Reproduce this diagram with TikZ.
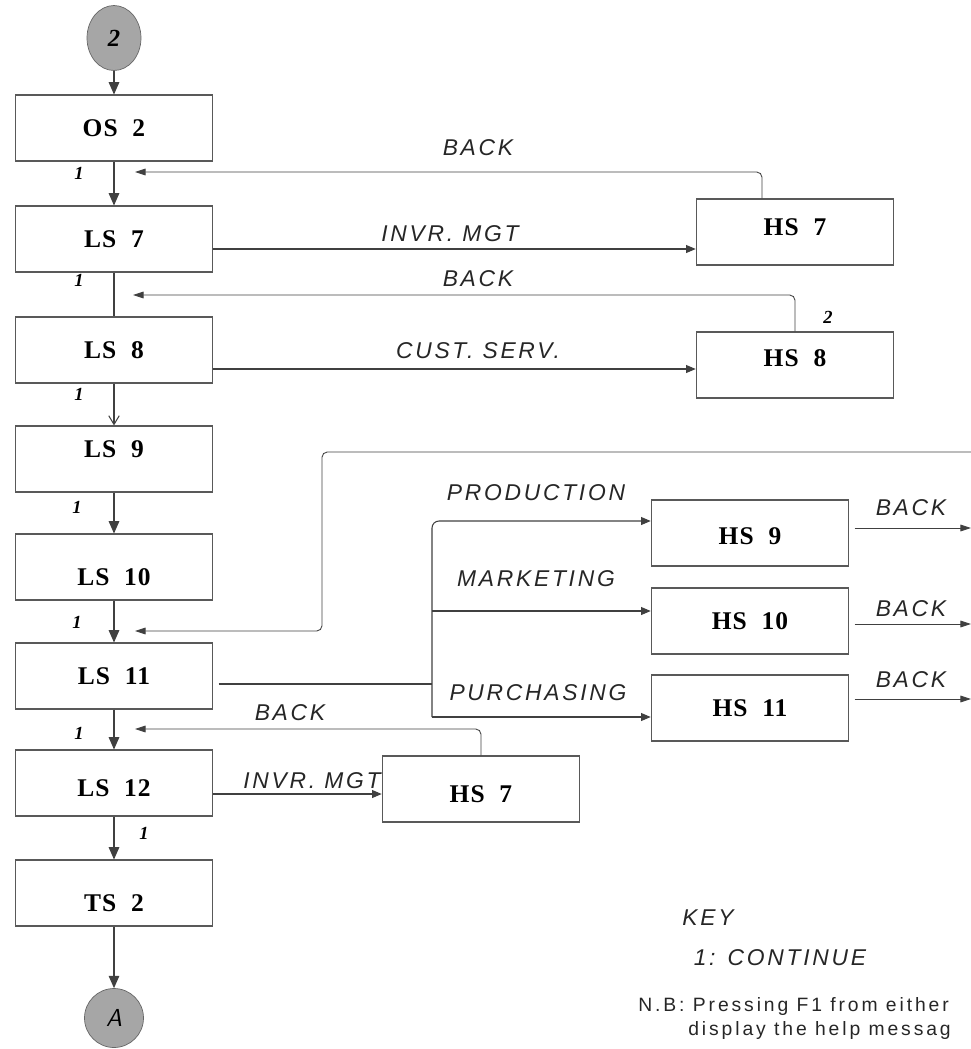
\documentclass[tikz,border=0pt]{standalone}
\usepackage{fontspec}
\setmainfont{Liberation Serif}
\newfontfamily\lblfont[LetterSpace=12]{Liberation Sans}
\newfontfamily\notefont[LetterSpace=15]{Liberation Sans}
\newfontfamily\scrfont[LetterSpace=4]{Liberation Serif}
\usetikzlibrary{arrows.meta, shapes.geometric}

\begin{document}
\begin{tikzpicture}[
    x=0.02cm, y=-0.02cm,
    screen/.style={draw=black!65, line width=0.6pt, rectangle, minimum width=3.95cm, minimum height=1.32cm,
        text height=9.5pt, text depth=0pt, font=\scrfont\bfseries\fontsize{14.5}{17}\selectfont},
    term/.style={draw=black!60, ellipse, fill=black!35, inner sep=0pt},
    lbl/.style={text height=9.3pt, text depth=0pt, inner sep=0pt, text=black!85,
        font=\lblfont\itshape\fontsize{13}{15}\selectfont},
    num/.style={inner sep=0pt, font=\bfseries\itshape\fontsize{10.5}{12}\selectfont},
    note/.style={anchor=west, inner sep=0pt, text=black!85, font=\notefont\fontsize{11}{13}\selectfont},
    line/.style={draw=black!75, line width=0.6pt},
    flow/.style={-{Triangle[length=7pt,width=6pt]}, draw=black!75, line width=0.6pt},
    open_arrow/.style={-{Straight Barb[length=5pt,width=6pt]}, draw=black!75, line width=0.6pt},
    arrow/.style={-{Triangle[length=5.5pt,width=4.5pt]}, draw=black!75, line width=0.6pt},
    back_arrow/.style={-{Triangle[length=6pt,width=3.8pt]}, draw=black!75, line width=0.5pt, rounded corners=3pt}
]
\useasboundingbox (0,0) rectangle (971,1049);

% Connectors (top and bottom of the column)
\node[term, minimum width=1.08cm, minimum height=1.3cm] (start) at (114,38)
    {\bfseries\itshape\fontsize{14}{16}\selectfont 2};
\node[term, minimum width=1.18cm, minimum height=1.18cm] (endA) at (114,1018)
    {\sffamily\itshape\fontsize{14}{16}\selectfont A};

% Main column of screens
\node[screen] (os2) at (114,128) {OS\ \ 2};
\node[screen] (ls7) at (114,239) {LS\ \ 7};
\node[screen] (ls8) at (114,350) {LS\ \ 8};
\node[screen, text depth=11pt] (ls9) at (114,459) {LS\ \ 9};
\node[screen, text height=20.5pt] (ls10) at (114,567) {LS\ \ 10};
\node[screen] (ls11) at (114,676) {LS\ \ 11};
\node[screen, text height=15.5pt] (ls12) at (114,783) {LS\ \ 12};
\node[screen, text height=21.5pt] (ts2) at (114,893) {TS\ \ 2};

% Help screens
\node[screen, text depth=5pt] (hs7) at (795,232) {HS\ \ 7};
\node[screen, text depth=8pt] (hs8) at (795,365) {HS\ \ 8};
\node[screen, text height=13.5pt] (hs9) at (750,533) {HS\ \ 9};
\node[screen] (hs10) at (750,621) {HS\ \ 10};
\node[screen] (hs11) at (750,708) {HS\ \ 11};
\node[screen, text height=15.5pt] (hs7b) at (481,789) {HS\ \ 7};

% Column flow
\draw[flow] (start) -- (os2);
\draw[flow] (os2) -- (ls7);
\draw[line] (ls7) -- (ls8);
\draw[open_arrow] (ls8) -- (ls9);
\draw[flow] (ls9) -- (ls10);
\draw[flow] (ls10) -- (ls11);
\draw[flow] (ls11) -- (ls12);
\draw[flow] (ls12) -- (ts2);
\draw[flow] (ts2) -- (endA);

\node[num] (n1) at (79,173) {1};
\node[num] (n2) at (79,280) {1};
\node[num] (n3) at (79,394) {1};
\node[num] (n4) at (77,507) {1};
\node[num] (n5) at (77,622) {1};
\node[num] (n6) at (79,733) {1};
\node[num] (n7) at (144,833) {1};
\node[num] (n8) at (828,317) {2};

% Calls to help screens
\draw[arrow] (ls7.east |- 0,249) -- (hs7.west |- 0,249);
\draw[arrow] (ls8.east |- 0,369) -- (hs8.west |- 0,369);
\draw[arrow] (ls12.east |- 0,794) -- (hs7b.west |- 0,794);
\node[lbl] (l_invr) at (450,233) {INVR. MGT};
\node[lbl] (l_cust) at (478,350) {CUST. SERV.};
\node[lbl] (l_invr2) at (312,780) {INVR. MGT};

% Back arrows
\coordinate (b7_end) at (135,172);
\coordinate (b8_end) at (133,295);
\coordinate (b7b_end) at (135,729);
\draw[back_arrow] (hs7.north -| 762,0) |- (b7_end);
\draw[back_arrow] (hs8.north) |- (b8_end);
\draw[back_arrow] (hs7b.north) |- (b7b_end);
\node[lbl] (l_back1) at (478,147) {BACK};
\node[lbl] (l_back2) at (478,278) {BACK};
\node[lbl] (l_back3) at (290,712) {BACK};

% Return from the right
\coordinate (fb_in) at (971,452);
\coordinate (fb_turn) at (322,631);
\coordinate (fb_end) at (135,631);
\draw[back_arrow] (fb_in) -| (fb_turn) -- (fb_end);

% Branch from LS 11
\coordinate (br_in) at (432,684);
\coordinate (br_top) at (432,521);
\coordinate (br_mid) at (432,611);
\coordinate (br_bot) at (432,717);
\draw[line, shorten <=3pt] (ls11.east |- br_in) -- (br_in);
\draw[arrow, rounded corners=4pt] (br_bot) |- (hs9.west |- br_top);
\draw[arrow] (br_mid) -- (hs10.west |- br_mid);
\draw[arrow] (br_bot) -- (hs11.west |- br_bot);
\node[lbl] (l_prod) at (536,492) {PRODUCTION};
\node[lbl] (l_mark) at (536,578) {MARKETING};
\node[lbl] (l_purch) at (538,692) {PURCHASING};

% Back from HS 9 to HS 11
\coordinate (r9) at (971,528);
\coordinate (r10) at (971,624);
\coordinate (r11) at (971,699);
\draw[back_arrow, shorten <=3pt] (hs9.east |- r9) -- (r9);
\draw[back_arrow, shorten <=3pt] (hs10.east |- r10) -- (r10);
\draw[back_arrow, shorten <=3pt] (hs11.east |- r11) -- (r11);
\node[lbl] (l_back9) at (911,507) {BACK};
\node[lbl] (l_back10) at (911,608) {BACK};
\node[lbl] (l_back11) at (911,679) {BACK};

% Key
\node[lbl] (key) at (708,917) {KEY};
\node[lbl] (key1) at (780,957) {1: CONTINUE};
\node[note] (nb1) at (638,1006) {N.B: Pressing F1 from either};
\node[note] (nb2) at (688,1030) {display the help messag};
\end{tikzpicture}
\end{document}
